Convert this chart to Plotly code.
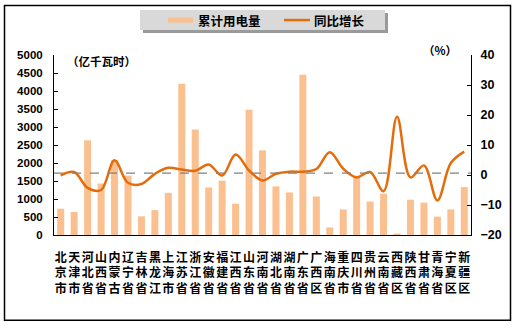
import plotly.graph_objects as go

provinces = ["北京市", "天津市", "河北省", "山西省", "内蒙古", "辽宁省", "吉林省", "黑龙江",
             "上海市", "江苏省", "浙江省", "安徽省", "福建省", "江西省", "山东省", "河南省",
             "湖北省", "湖南省", "广东省", "广西区", "海南省", "重庆市", "四川省", "贵州省",
             "云南省", "西藏区", "陕西省", "甘肃省", "青海省", "宁夏区", "新疆区"]
consumption = [730, 640, 2630, 1430, 2080, 1650, 520, 690,
               1170, 4200, 2930, 1320, 1510, 870, 3480, 2350,
               1350, 1180, 4450, 1070, 210, 710, 1650, 930,
               1150, 40, 980, 900, 510, 710, 1330]
growth = [-0.1, 1.0, -4.3, -5.0, 4.9, -2.6, -3.0, 0.4,
          2.4, 1.8, 1.4, 3.5, -0.2, 6.8, 1.5, -1.8,
          0.4, 1.1, 1.1, 2.0, 7.6, 2.1, -0.8, 1.0,
          -5.4, 19.4, -0.8, 3.2, -8.5, 4.0, 7.8]
ref_growth = 0.6
tick_text = ["<br>".join(list(p)) for p in provinces]

BAR = "#FAC090"
LINE = "#E46C0A"
W, H = 517, 328
L, R, T, B = 54, 471, 55, 235.3

def px(x):
    return (x - L) / (R - L)

def py(y):
    return (B - y) / (B - T)

fig = go.Figure()
fig.add_trace(go.Bar(x=provinces, y=consumption, marker=dict(color=BAR, line=dict(width=0)),
                     name="累计用电量", yaxis="y"))
fig.add_trace(go.Scatter(x=provinces, y=growth, mode="lines", name="同比增长", yaxis="y2",
                         line=dict(color=LINE, width=2.5, shape="spline", smoothing=1.0)))

bold = dict(family="Liberation Sans, Arial", size=11.5, color="#000000", weight="bold")
cjk = dict(family="Noto Sans CJK SC", size=12, color="#000000", weight="bold")

shapes = [
    # outer border
    dict(type="rect", xref="paper", yref="paper", x0=px(4.5), x1=px(510.5), y0=py(5.5), y1=py(320.7),
         line=dict(color="#000000", width=1.5), fillcolor="rgba(0,0,0,0)", layer="below"),
    # reference dashed line
    dict(type="line", xref="paper", yref="y2", x0=0, x1=1, y0=ref_growth, y1=ref_growth,
         line=dict(color="#808080", width=1.2, dash="dash")),
    # legend shadow & box
    dict(type="rect", xref="paper", yref="paper", x0=px(143), x1=px(388), y0=py(13), y1=py(33),
         line=dict(width=0), fillcolor="#9a9a9a"),
    dict(type="rect", xref="paper", yref="paper", x0=px(140), x1=px(385), y0=py(10), y1=py(30),
         line=dict(width=0), fillcolor="#d9d9d9"),
    dict(type="rect", xref="paper", yref="paper", x0=px(168), x1=px(193), y0=py(17.5), y1=py(22.5),
         line=dict(width=0), fillcolor=BAR),
    dict(type="line", xref="paper", yref="paper", x0=px(284), x1=px(310), y0=py(20), y1=py(20),
         line=dict(color=LINE, width=2.5)),
]

annotations = [
    dict(text="累计用电量", xref="paper", yref="paper", x=px(196), y=py(20), xanchor="left",
         yanchor="middle", showarrow=False, font=dict(family="Noto Sans CJK SC", size=12.5, color="#000", weight="bold")),
    dict(text="同比增长", xref="paper", yref="paper", x=px(312), y=py(20), xanchor="left",
         yanchor="middle", showarrow=False, font=dict(family="Noto Sans CJK SC", size=12.5, color="#000", weight="bold")),
    dict(text="（亿千瓦时）", xref="paper", yref="paper", x=px(65), y=py(61), xanchor="left",
         yanchor="middle", showarrow=False, font=dict(family="Noto Sans CJK SC", size=11.5, color="#000", weight="bold")),
    dict(text="（%）", xref="paper", yref="paper", x=px(440), y=py(50), xanchor="center",
         yanchor="middle", showarrow=False, font=dict(family="Noto Sans CJK SC", size=11.5, color="#000", weight="bold")),
]

fig.update_layout(
    width=W, height=H,
    margin=dict(l=L, r=W - R, t=T, b=H - B, pad=0),
    paper_bgcolor="#ffffff", plot_bgcolor="#ffffff",
    showlegend=False, bargap=0.48, hovermode=False,
    xaxis=dict(tickvals=provinces, ticktext=tick_text, tickfont=cjk, showline=True,
               linecolor="#000000", linewidth=1.2, ticks="", ticklabelstandoff=11,
               showgrid=False, zeroline=False, tickangle=0),
    yaxis=dict(range=[0, 5000], dtick=500, tickfont=bold, showline=True, linecolor="#000000",
               linewidth=1, ticks="inside", ticklen=4, tickcolor="#000000", showgrid=False,
               zeroline=False, ticklabelstandoff=8),
    yaxis2=dict(range=[-20, 40], dtick=10, overlaying="y", side="right", tickfont=dict(bold, size=12.5),
                showline=True, linecolor="#000000", linewidth=1, ticks="inside", ticklen=4,
                tickcolor="#000000", showgrid=False, zeroline=False, ticklabelstandoff=6),
    shapes=shapes, annotations=annotations,
)

fig.write_html("out.html", config={"displayModeBar": False, "staticPlot": True},
               post_script="document.body.style.margin='0';document.body.style.overflow='hidden';")
